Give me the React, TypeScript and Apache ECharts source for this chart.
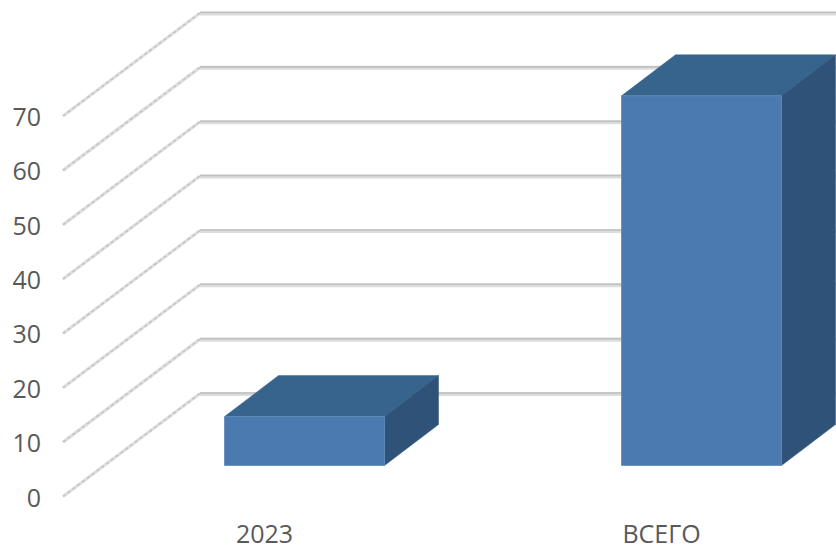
import React, { useEffect, useRef } from "react";
import * as echarts from "echarts";

const categories = ["2023", "ВСЕГО"];
const seriesValues = [9, 68];
const yTicks = [0, 10, 20, 30, 40, 50, 60, 70];

const FRONT_X = 63;
const WALL_DX = 137;
const WALL_DY = -103;
const RIGHT_X = 836;
const BAR_OFF_X = 40;
const BAR_OFF_Y = -31;
const BAR_W = 160;
const BAR_DX = 54;
const BAR_DY = -41;

const renderGrid = (_p: any, api: any) => {
  const y = api.coord([0, api.value(1)])[1];
  const bx = FRONT_X + WALL_DX;
  const by = y + WALL_DY;
  return {
    type: "group",
    children: [
      { type: "line", shape: { x1: FRONT_X, y1: y, x2: bx, y2: by }, style: { stroke: "#dedede", lineWidth: 3.2, fill: "none" } },
      { type: "line", shape: { x1: FRONT_X, y1: y, x2: bx, y2: by }, style: { stroke: "#c2c2c2", lineWidth: 1.4, lineDash: [3, 3], fill: "none" } },
      { type: "line", shape: { x1: bx, y1: by + 0.5, x2: RIGHT_X, y2: by + 0.5 }, style: { stroke: "#dcdcdc", lineWidth: 4, fill: "none" } },
      { type: "line", shape: { x1: bx, y1: by - 0.5, x2: RIGHT_X, y2: by - 0.5 }, style: { stroke: "#c0c0c0", lineWidth: 1.6, fill: "none" } },
    ],
  };
};

const renderBar = (_p: any, api: any) => {
  const top = api.coord([api.value(0), api.value(1)]);
  const base = api.coord([api.value(0), 0]);
  const l = top[0] + BAR_OFF_X - BAR_W / 2;
  const r = l + BAR_W;
  const t = top[1] + BAR_OFF_Y;
  const b = base[1] + BAR_OFF_Y;
  return {
    type: "group",
    children: [
      {
        type: "polygon",
        shape: { points: [[l, t], [l + BAR_DX, t + BAR_DY], [r + BAR_DX, t + BAR_DY], [r, t]] },
        style: { fill: "#36648c", stroke: "#36648c", lineWidth: 0.5 },
      },
      {
        type: "polygon",
        shape: { points: [[r, t], [r + BAR_DX, t + BAR_DY], [r + BAR_DX, b + BAR_DY], [r, b]] },
        style: { fill: "#2f5278", stroke: "#2f5278", lineWidth: 0.5 },
      },
      {
        type: "rect",
        shape: { x: l, y: t, width: BAR_W, height: b - t },
        style: { fill: "#4a7ab0", stroke: "#5f8aba", lineWidth: 0.8 },
      },
    ],
  };
};

export default function App() {
  const ref = useRef<HTMLDivElement>(null);
  useEffect(() => {
    const chart = echarts.init(ref.current!, null, { renderer: "svg" });
    chart.setOption({
      animation: false,
      backgroundColor: "#ffffff",
      grid: { left: 66, top: 116, width: 794, height: 381 },
      xAxis: {
        type: "category",
        data: categories,
        axisLine: { show: false },
        axisTick: { show: false },
        axisLabel: { color: "#595959", fontFamily: "Open Sans", fontSize: 25, lineHeight: 22, margin: 25 },
      },
      yAxis: {
        type: "value",
        min: 0,
        max: 70,
        interval: 10,
        axisLine: { show: false },
        axisTick: { show: false },
        splitLine: { show: false },
        axisLabel: { color: "#595959", fontFamily: "Open Sans", fontSize: 25, margin: 25, padding: [6, 0, 0, 0] },
      },
      series: [
        {
          type: "custom",
          renderItem: renderGrid,
          silent: true,
          z: 1,
          encode: { x: 0, y: 1 },
          data: yTicks.map((t) => [0, t]),
        },
        {
          type: "custom",
          renderItem: renderBar,
          silent: true,
          z: 2,
          encode: { x: 0, y: 1 },
          data: seriesValues.map((v, i) => [i, v]),
        },
      ],
    });
    return () => chart.dispose();
  }, []);
  return (
    <div style={{ position: "absolute", left: 0, top: 0, width: 836, height: 545, overflow: "hidden" }}>
      <div ref={ref} style={{ width: 860, height: 545 }} />
    </div>
  );
}
